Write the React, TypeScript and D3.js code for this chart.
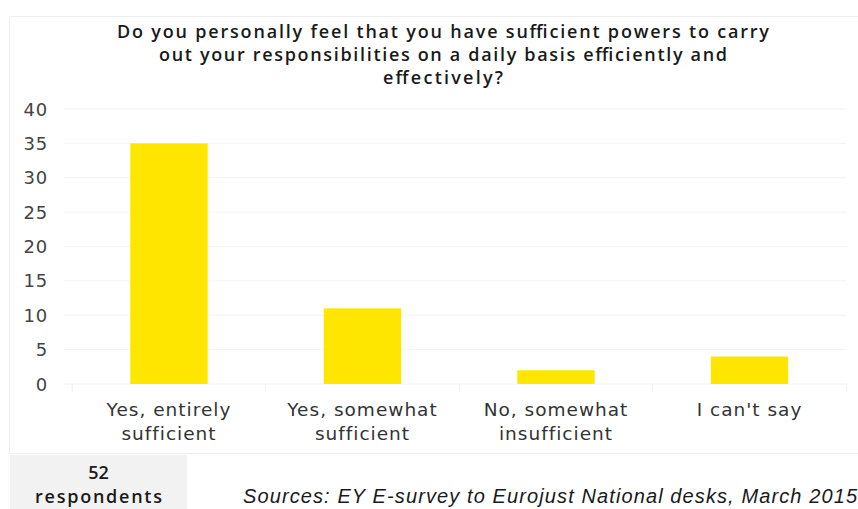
import React from "react";
import * as d3 from "d3";

const categories = [
  ["Yes, entirely", "sufficient"],
  ["Yes, somewhat", "sufficient"],
  ["No, somewhat", "insufficient"],
  ["I can't say"],
];
const values = [35, 11, 2, 4];
const yTicks = [0, 5, 10, 15, 20, 25, 30, 35, 40];
const titleLines = [
  "Do you personally feel that you have sufficient powers to carry",
  "out your responsibilities on a daily basis efficiently and",
  "effectively?",
];
const titleWidths = [652, 568, 120];
const respondents = ["52", "respondents"];
const respondentWidths = [undefined, 127];
const sourceText = "Sources: EY E-survey to Eurojust National desks, March 2015";

export default function App() {
  const W = 858, H = 509;
  const left = 72.25, right = 846.25, top = 109, bottom = 384;
  const x = d3.scaleBand<number>().domain(d3.range(values.length)).range([left, right]).paddingInner(0.6).paddingOuter(0.3);
  const xb = d3.scaleBand<number>().domain(d3.range(values.length)).range([left, right]);
  const y = d3.scaleLinear().domain([0, 40]).range([bottom, top]);
  const font = "'DejaVu Sans', sans-serif";
  const boldFont = "'Open Sans', 'DejaVu Sans', sans-serif";
  return (
    <svg width={W} height={H} style={{ position: "absolute", left: 0, top: 0, background: "#fff" }}>
      <rect x={9.5} y={16.5} width={860} height={437} fill="#fff" stroke="#efefef" />
      {titleLines.map((t, i) => (
        <text key={i} x={443} y={38 + i * 23} textAnchor="middle" fontFamily={boldFont} fontSize={18} fontWeight={600} fill="#1a1a1a" textLength={titleWidths[i]} lengthAdjust="spacing">
          {t}
        </text>
      ))}
      {yTicks.map((t) => (
        <g key={t}>
          <line x1={64} x2={right} y1={y(t)} y2={y(t)} stroke="#f3f3f3" />
          <text x={48} y={y(t) + 6.5} textAnchor="end" fontFamily={font} fontSize={18} letterSpacing={0.8} fill="#444">
            {t}
          </text>
        </g>
      ))}
      {d3.range(values.length + 1).map((i) => {
        const xx = i < values.length ? xb(i)! : right;
        return <line key={i} x1={xx} x2={xx} y1={bottom} y2={bottom + 8} stroke="#eee" />;
      })}
      {values.map((v, i) => (
        <rect key={i} x={x(i)} y={y(v)} width={x.bandwidth()} height={y(0) - y(v)} fill="#FFE600" />
      ))}
      {categories.map((lines, i) => (
        <text key={i} x={xb(i)! + xb.bandwidth() / 2} textAnchor="middle" fontFamily={font} fontSize={18.5} letterSpacing={1} fill="#333">
          {lines.map((l, j) => (
            <tspan key={j} x={xb(i)! + xb.bandwidth() / 2} y={416 + j * 24}>
              {l}
            </tspan>
          ))}
        </text>
      ))}
      <rect x={10} y={455} width={177} height={54} fill="#f2f2f2" />
      {respondents.map((r, i) => (
        <text key={i} x={98.5} y={479 + i * 24} textAnchor="middle" fontFamily={boldFont} fontSize={18} fontWeight={600} fill="#1a1a1a" textLength={respondentWidths[i]} lengthAdjust="spacing">
          {r}
        </text>
      ))}
      <text x={857} y={503} textAnchor="end" fontFamily="'Liberation Sans', Arial, sans-serif" fontStyle="italic" fontSize={20} fill="#1a1a1a" textLength={614} lengthAdjust="spacing">
        {sourceText}
      </text>
    </svg>
  );
}
